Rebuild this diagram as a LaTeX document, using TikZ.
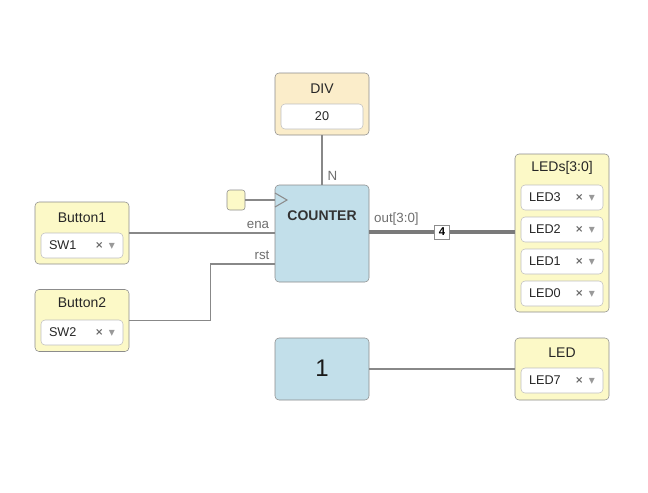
\documentclass[tikz,border=0pt]{standalone}
\usepackage{fontspec}
\setmainfont{Liberation Sans}
\newfontfamily\symfont{DejaVu Sans}
\usetikzlibrary{positioning}

\definecolor{pinfill}{HTML}{FCF9C7}
\definecolor{divfill}{HTML}{FBEDCA}
\definecolor{blockfill}{HTML}{C2DFEA}
\definecolor{edgegray}{HTML}{8C8C8C}
\definecolor{wiregray}{HTML}{888888}
\definecolor{buscolor}{HTML}{7A7A7A}
\definecolor{labelgray}{HTML}{6E6E6E}
\definecolor{symgray}{HTML}{666666}
\definecolor{arrgray}{HTML}{999999}

% select field inside an io box: name, centre, text
\newcommand{\selfield}[3]{%
  \node[field] (#1) at (#2) {};
  \node[fieldtxt, anchor=west] (#1-txt) at ([xshift=6pt]#1.west) {#3};
  \node[fieldsym] (#1-x) at ([xshift=-18pt]#1.east) {\symfont\bfseries ×};
  \node[fieldsym, text=arrgray] (#1-arr) at ([xshift=-8.5pt, yshift=-0.8pt]#1.east) {\symfont\fontsize{9}{9}\selectfont ▾};
}

\begin{document}
\begin{tikzpicture}[x=0.75pt, y=-0.75pt,
    io/.style={rectangle, draw=edgegray, rounded corners=3pt, fill=pinfill, minimum width=70.5pt, minimum height=46.5pt, inner sep=0pt},
    block/.style={rectangle, draw=edgegray, rounded corners=3pt, fill=blockfill, minimum width=70.5pt, inner sep=0pt},
    title/.style={font=\fontsize{10.5}{12}\selectfont, text=black!85, inner sep=0pt},
    field/.style={rectangle, draw=black!25, rounded corners=3pt, fill=white, minimum width=61.5pt, minimum height=18.75pt, inner sep=0pt},
    fieldtxt/.style={font=\fontsize{9.5}{11}\selectfont, text=black!85, inner sep=0pt},
    fieldsym/.style={font=\fontsize{7.5}{9}\selectfont, text=symgray, inner sep=0pt},
    pinlbl/.style={font=\fontsize{10}{11}\selectfont, text=labelgray, inner sep=0pt},
    wire/.style={draw=wiregray, line width=1.1pt},
    bus/.style={draw=buscolor, line width=3pt},
    buswidth/.style={rectangle, draw=edgegray, fill=white, line width=0.6pt, minimum width=11pt, minimum height=10.5pt, inner sep=0pt, font=\bfseries\fontsize{8.5}{9}\selectfont}
    ]
    \useasboundingbox (0,0) rectangle (648,492);

    % blocks
    \node[block, minimum height=72.75pt] (counter) at (322,233.5) {};
    \node[font=\bfseries\fontsize{10.5}{12}\selectfont, text=black!80] (counter-txt) at (322,216) {COUNTER};
    \node[block, minimum height=46.5pt] (const) at (322,369) {};
    \node[font=\fontsize{18}{20}\selectfont, text=black!90] (const-txt) at (322,368) {1};

    % DIV parameter
    \node[io, fill=divfill] (div) at (322,104) {};
    \node[title] (div-title) at (322,89) {DIV};
    \node[field] (div-val) at (322,116.5) {};
    \node[fieldtxt] (div-txt) at (322,116.5) {20};

    % inputs
    \node[io] (btn1) at (82,233) {};
    \node[title] (btn1-title) at (82,218) {Button1};
    \selfield{sw1}{82,245.5}{SW1}
    \node[io] (btn2) at (82,320.5) {};
    \node[title] (btn2-title) at (82,303) {Button2};
    \selfield{sw2}{82,332.5}{SW2}

    % outputs
    \node[io, minimum height=118.5pt] (leds) at (562,233) {};
    \node[title] (leds-title) at (562,168) {LEDs[3:0]};
    \selfield{led3}{562,197.5}{LED3}
    \selfield{led2}{562,229.5}{LED2}
    \selfield{led1}{562,261.5}{LED1}
    \selfield{led0}{562,293.5}{LED0}
    \node[io] (led) at (562,369) {};
    \node[title] (led-title) at (562,353) {LED};
    \selfield{led7}{562,380.5}{LED7}

    % clock
    \node[rectangle, draw=edgegray, rounded corners=2pt, fill=pinfill, minimum width=13.5pt, minimum height=15pt, inner sep=0pt] (clk) at (236,200) {};
    \coordinate (clkpin) at (275,200);
    \draw[wire, line width=0.8pt] (clk.east) -- (clkpin);
    \draw[draw=edgegray, line width=0.8pt] (275,193) -- (287,200) -- (275,207);

    % wires
    \draw[wire] (div.south) -- (counter.north);
    \node[pinlbl, anchor=south west] (n-lbl) at ([xshift=4pt, yshift=3pt]counter.north) {N};

    \draw[wire] (btn1.east) -- (counter.west |- btn1.east);
    \node[pinlbl, anchor=south east] (ena-lbl) at ([xshift=-4pt, yshift=3pt]counter.west |- btn1.east) {ena};

    \coordinate (rstpin) at (275,264);
    \draw[wire] (btn2.east) -- ++(81,0) |- (rstpin);
    \node[pinlbl, anchor=south east] (rst-lbl) at ([xshift=-4pt, yshift=3pt]rstpin) {rst};

    \draw[bus] (counter.east |- 0,232) -- node[buswidth] (width) {4} (leds.west |- 0,232);
    \node[pinlbl, anchor=south west] (out-lbl) at ([xshift=3.5pt, yshift=5pt]counter.east |- 0,232) {out[3:0]};

    \draw[wire] (const.east) -- (led.west);
\end{tikzpicture}
\end{document}
